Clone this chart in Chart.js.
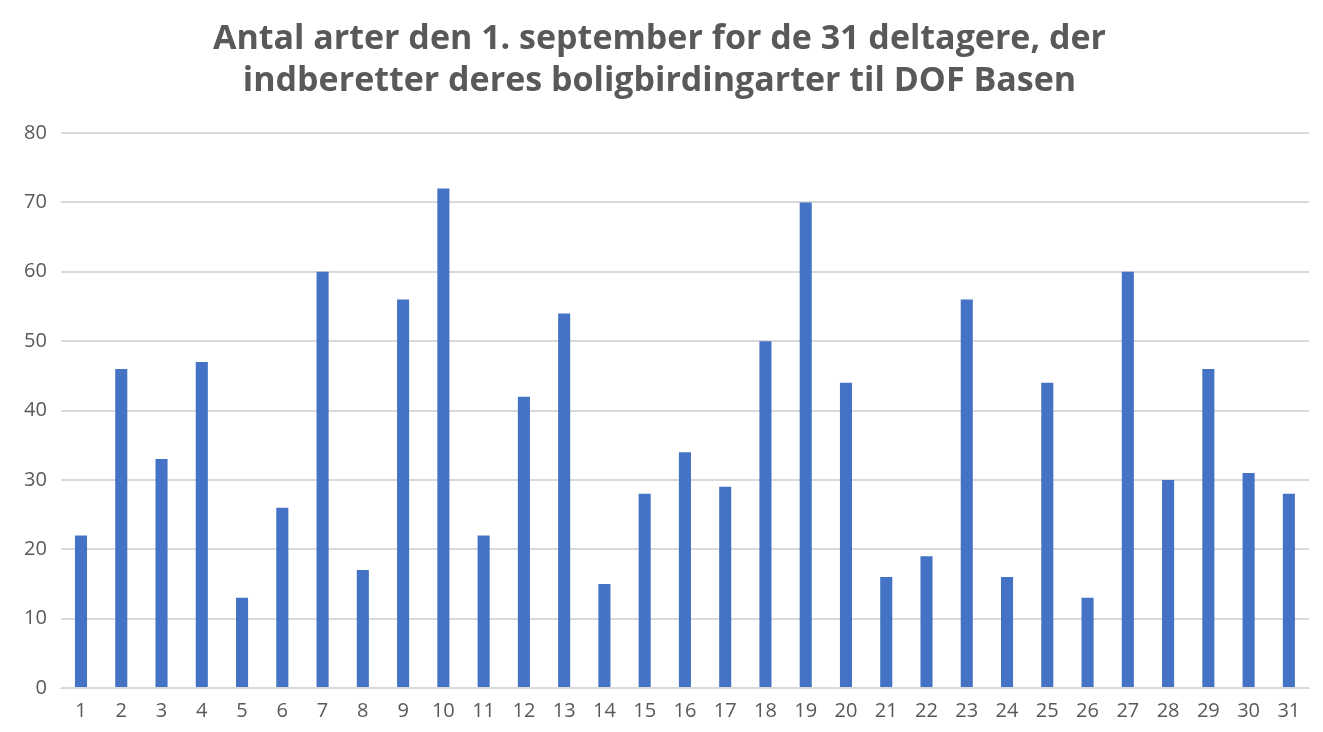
<!DOCTYPE html>
<html><head><meta charset="utf-8">
<script src="https://cdn.jsdelivr.net/npm/chart.js@4"></script>
<style>html,body{margin:0;padding:0;background:#fff}#w{width:1323px;height:732px}</style>
</head><body><div id="w"><canvas id="c"></canvas></div>
<script>
const categories = Array.from({length:31},(_,i)=>String(i+1));
const values = [22,46,33,47,13,26,60,17,56,72,22,42,54,15,28,34,29,50,70,44,16,19,56,16,44,13,60,30,46,31,28];
const titleLines = ["Antal arter den 1. september for de 31 deltagere, der","indberetter deres boligbirdingarter til DOF Basen"];
new Chart(document.getElementById('c'),{
 type:'bar',
 data:{labels:categories,datasets:[{data:values,backgroundColor:'#4472c4',barPercentage:0.3,categoryPercentage:1}]},
 options:{responsive:true,maintainAspectRatio:false,animation:false,
  layout:{padding:{left:10,right:14,top:8,bottom:6}},
  plugins:{legend:{display:false},tooltip:{enabled:false},
   title:{display:true,text:titleLines,color:'#595959',font:{family:'Open Sans',size:34,weight:'bold',lineHeight:1.25},padding:{top:10,bottom:30}}},
  scales:{
   x:{grid:{display:false},border:{color:'#d9d9d9'},ticks:{color:'#595959',font:{family:'Open Sans',size:20},maxRotation:0,autoSkip:false}},
   y:{min:0,max:80,ticks:{stepSize:10,color:'#595959',font:{family:'Open Sans',size:20},padding:14},grid:{color:'#d9d9d9',lineWidth:2,drawTicks:false},border:{display:false}}
  }}
});
</script></body></html>
